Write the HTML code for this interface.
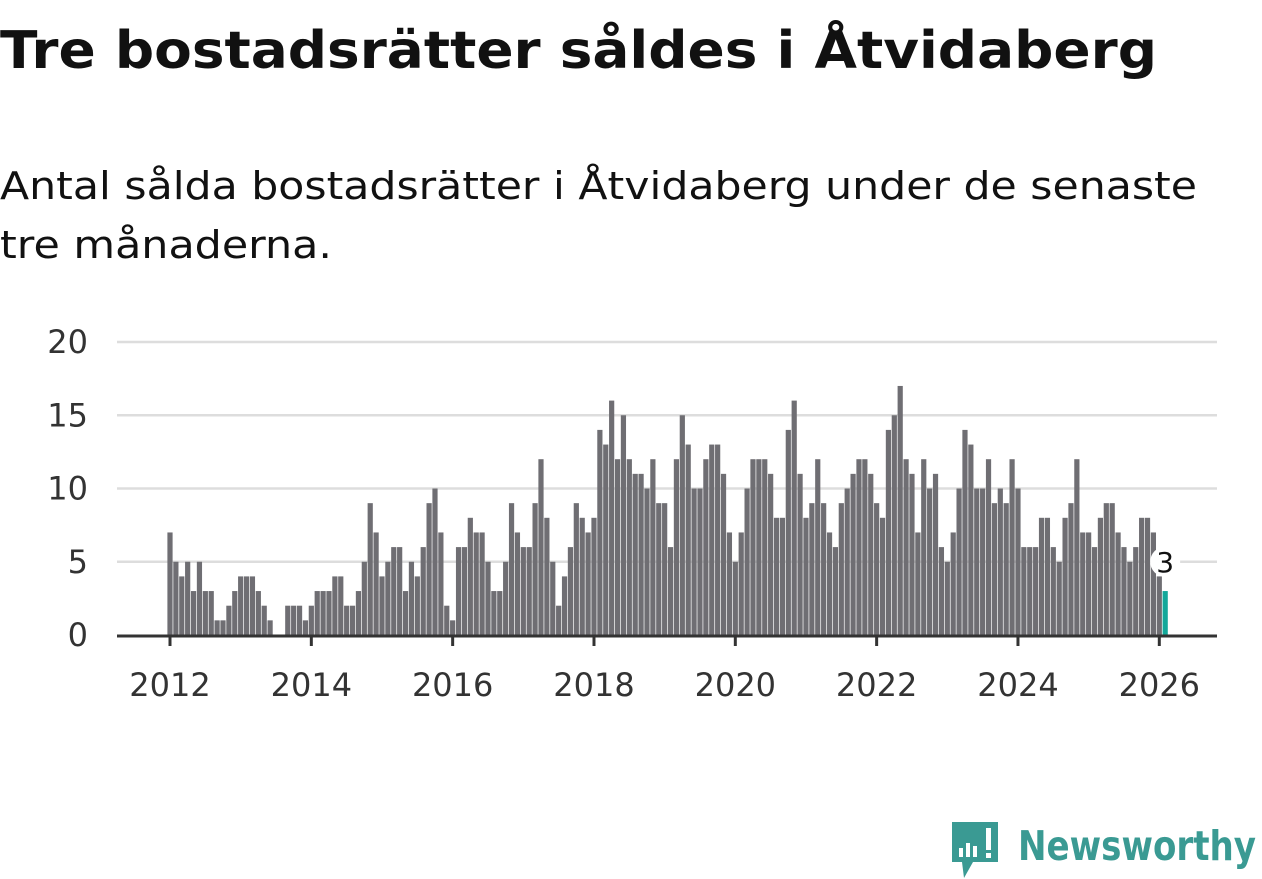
<!DOCTYPE html>
<html><head><meta charset="utf-8"><style>
html,body{margin:0;padding:0;background:#fff;width:1262px;height:879px;overflow:hidden}
svg{display:block}
text{font-family:"DejaVu Sans","Liberation Sans",sans-serif}
</style></head><body>
<svg id="chart" width="1262" height="879" viewBox="0 0 1262 879">
<text x="0" y="68" font-size="52" font-weight="bold" fill="#111" textLength="1157" lengthAdjust="spacingAndGlyphs">Tre bostadsrätter såldes i Åtvidaberg</text>
<text x="0" y="199" font-size="38" fill="#111" textLength="1197" lengthAdjust="spacingAndGlyphs">Antal sålda bostadsrätter i Åtvidaberg under de senaste</text>
<text x="0" y="258" font-size="38" fill="#111" textLength="332" lengthAdjust="spacingAndGlyphs">tre månaderna.</text>
<g id="grid"></g><g id="bars"></g><g id="axis"></g>
<g>
<path d="M952 822 h46 v40 h-25 l-9 16 l-2 -16 h-10 z" fill="#3a9a93"/>
<rect x="959" y="848" width="4" height="9" fill="#fff"/><rect x="966" y="843" width="4" height="14" fill="#fff"/><rect x="973" y="846" width="4" height="11" fill="#fff"/><rect x="986" y="828" width="5" height="22" fill="#fff"/><rect x="986" y="853" width="5" height="5" fill="#fff"/>
<text x="1018" y="860" font-size="41" font-weight="bold" fill="#3a9a93" textLength="238" lengthAdjust="spacingAndGlyphs">Newsworthy</text>
</g>
</svg>
<script>
const yTicks=[0,5,10,15,20];
const xTickYears=[2012,2014,2016,2018,2020,2022,2024,2026];
const values2012=[7,5,4,5,3,5,3,3,1,1,2,3];
const values2013=[4,4,4,3,2,1,0,0,2,2,2,1];
const values2014=[2,3,3,3,4,4,2,2,3,5,9,7];
const values2015=[4,5,6,6,3,5,4,6,9,10,7,2];
const values2016=[1,6,6,8,7,7,5,3,3,5,9,7];
const values2017=[6,6,9,12,8,5,2,4,6,9,8,7];
const values2018=[8,14,13,16,12,15,12,11,11,10,12,9];
const values2019=[9,6,12,15,13,10,10,12,13,13,11,7];
const values2020=[5,7,10,12,12,12,11,8,8,14,16,11];
const values2021=[8,9,12,9,7,6,9,10,11,12,12,11];
const values2022=[9,8,14,15,17,12,11,7,12,10,11,6];
const values2023=[5,7,10,14,13,10,10,12,9,10,9,12];
const values2024=[10,6,6,6,8,8,6,5,8,9,12,7];
const values2025=[7,6,8,9,9,7,6,5,6,8,8,7];
const values2026=[4,3];
const values=[].concat(values2012,values2013,values2014,values2015,values2016,values2017,values2018,values2019,values2020,values2021,values2022,values2023,values2024,values2025,values2026);
const startYear=2012;
const NS="http://www.w3.org/2000/svg";
function xScale(monthIndex){return 170+monthIndex*(1159.3-170)/168;}
function yScale(v){return 635-v*(635-342)/20;}
function mk(tag,attrs,parent){const e=document.createElementNS(NS,tag);for(const k in attrs)e.setAttribute(k,attrs[k]);parent.appendChild(e);return e;}
const grid=document.getElementById('grid'),bars=document.getElementById('bars'),axis=document.getElementById('axis');
yTicks.forEach(t=>{
  if(t>0){const l=mk('line',{x1:117,x2:1217,y1:yScale(t),y2:yScale(t),stroke:'#dddddd','stroke-width':2.5},grid);
  
  }
  const tx=mk('text',{x:88,y:yScale(t)+11,'font-size':32,fill:'#333','text-anchor':'end'},axis);
  tx.textContent=t;
  
  
});
values.forEach((v,i)=>{
  const last=i===values.length-1;
  const r=mk('rect',{x:xScale(i)-2.6,y:yScale(v),width:5.2,height:yScale(0)-yScale(v),fill:last?'#13a89a':'#6f6e73'},bars);
  
  
  if(last){
    const bg=mk('circle',{cx:xScale(i),cy:yScale(5),r:15,fill:'#fff'},axis);
    
    
    const lb=mk('text',{x:xScale(i),y:yScale(5)+10,'font-size':28,fill:'#111','text-anchor':'middle'},axis);
    lb.textContent=v;
    
    
  }
});
const base=mk('line',{x1:117,x2:1217,y1:636,y2:636,stroke:'#333','stroke-width':3},axis);


xTickYears.forEach(y=>{
  const x=xScale((y-startYear)*12);
  const tk=mk('line',{x1:x,x2:x,y1:636,y2:646,stroke:'#333','stroke-width':3},axis);
  
  
  const tx=mk('text',{x:x,y:696,'font-size':32,fill:'#333','text-anchor':'middle'},axis);
  tx.textContent=y;
  
  
});
</script>
</body></html>
